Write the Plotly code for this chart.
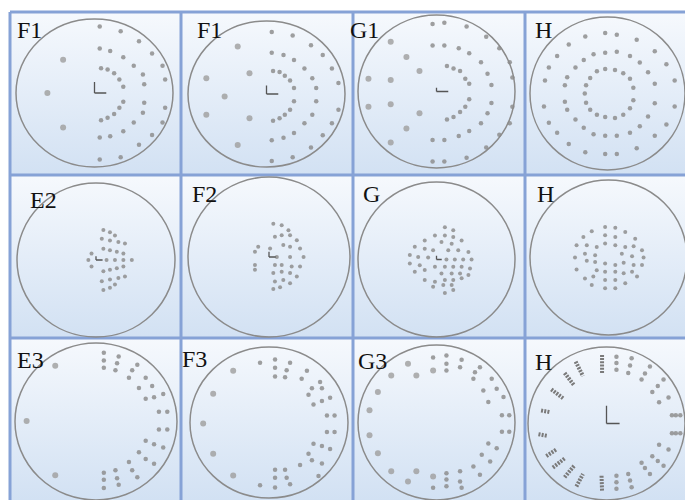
import plotly.graph_objects as go

W, H = 685, 500

LABELS = ["F1", "F1", "G1", "H", "E2", "F2", "G", "H", "E3", "F3", "G3", "H"]

# ---------------- data (degrees, circle radius = 30) ----------------
# Panel 1  F1
P1_X = [2, 10, 17, 22, 26, 27, 27, 26, 22, 17, 10, 2,
        2, 6, 11, 15, 18.5, 19, 19, 18.5, 15, 11, 6, 2,
        2.5, 5, 7.5, 9.5, 11, 11, 9.5, 7.5, 5, 2.5]
P1_Y = [27, 25, 21, 16, 11, 5.5, -6, -12, -17, -21, -26, -27,
        18, 17, 14.5, 11, 7.5, 3.5, -4, -8, -12, -15.5, -17.5, -18,
        10, 9.5, 8, 5.5, 2.5, -3.5, -6, -8.5, -10, -11]
P1_BIG_X = [-12, -18, -12]
P1_BIG_Y = [13.5, 0, -14]

# Panel 2  F1
P2_X = [2, 10, 17, 21.5, 25, 27.5, 27.5, 25, 21.5, 17, 10, 2,
        2, 6.5, 10.5, 14.5, 17.5, 19, 19, 17.5, 14.5, 10.5, 6.5, 2,
        2.5, 5, 7, 9, 10.5, 10.5, 9, 7, 5, 2.5]
P2_Y = [25.5, 24, 20, 16, 10.5, 4.5, -6.5, -12, -17, -22, -26, -27.5,
        17, 16, 14, 10.5, 6.5, 2.5, -3, -8.5, -12, -16, -18, -19,
        9.5, 9, 7.5, 5.5, 2.5, -3, -6.5, -8.5, -10, -11]
P2_BIG_X = [-11, -23, -16, -23, -11, -6.5, -6.5]
P2_BIG_Y = [19.5, 6.5, -1, -8.5, -21, 8.5, -10]

# Panel 3  G1
P3_X = [-1.5, 3, 11.5, 19, 24, 28, 29, 29, 28, 24, 19, 11.5, 3, -1.5,
        -1.5, 3, 8.5, 12.5, 17, 19.5, 21, 21, 19.5, 17, 12.5, 8.5, 3, -1.5,
        4, 6.5, 9, 11, 12.5, 12.5, 11, 9, 6.5, 4]
P3_Y = [26.5, 27, 25.5, 21.5, 17, 11.5, 5.5, -6, -12.5, -17, -22, -26, -27.5, -27.5,
        18, 18, 17, 15, 11.5, 7, 2.5, -4.5, -8.5, -12.5, -15.5, -17.5, -19, -19,
        10, 9, 8, 5, 3, -3, -6, -8, -10, -11]
P3_BIG_X = [-17.5, -11.5, -26, -17.5, -17.5, -26, -11.5, -17.5, -6.5, -6.5]
P3_BIG_Y = [19.5, 13.5, 5, 4.5, -5, -6, -14.5, -20, 8, -8.5]

# Panel 4  H (concentric rings)
P4_X = [-8.6, -0.9, 3.6, 11.3, 18.3, 22.8, 26, 26, 22.8, 18.3, 11.3, 3.6, -0.9, -8.6,
        -15, -19.5, -22.7, -24.6, -24.2, -22.7, -19.5, -15,
        -5.4, -0.9, 3.6, 8.7, 12.5, 15.7, 18.3, 18.3, 15.7, 12.5, 8.7, 3.6, -0.9, -5.4,
        -9.2, -12.4, -15.6, -16.5, -16.5, -15.6, -12.4, -9.2,
        -4.1, -0.9, 2.9, 6.1, 8.7, 10, 10, 8.7, 6.1, 2.9, -0.9, -4.1, -6.7, -8.3, -8.8, -8.3, -6.7]
P4_Y = [22.4, 23.7, 23, 21.1, 16.6, 11.5, 5.1, -5.1, -12.2, -16.6, -21.5, -23.7, -23.7, -23,
        -19.8, -15.4, -11.5, -5.1, 5.1, 10.2, 14.7, 19.2,
        15.4, 16, 16.4, 14.7, 12.2, 8.3, 3.8, -3.8, -9, -12.8, -15.4, -16.6, -16.6, -16,
        -13.4, -10.2, -6.4, -3.2, 3.2, 6.4, 10.2, 13.1,
        8.7, 9.6, 9.2, 7.9, 5.8, 2.3, -2.6, -5.8, -8.3, -9.6, -9.2, -8.3, -6.4, -3.6, 0, 3.2, 6.1]

# Panel 5  E2
P5_X = [2.8, 5.3, 7.2, 2.2, 5.3, 8.5, 11, 2.8, 5.3, 7.9, 10.4, -1.7,
        -2.9, 4, 7.2, 10.4, 13.6, -1.7,
        2.8, 5.3, 7.9, 10.4, 2.2, 5.3, 8.5, 11, 2.8, 5.3, 7.2]
P5_Y = [11.7, 10.8, 9.5, 8.3, 7.6, 7, 6.4, 4.4, 3.8, 3.2, 2.5, 2.5,
        0, 0, 0, 0, 0, -2.5,
        -4.4, -3.8, -3.2, -2.5, -8.3, -7.6, -7, -6.4, -11.7, -10.8, -9.5]

# Panel 6  F2
P6_X = [1.6, 4.7, 7.2, 2.2, 4.7, 7.8, 10.3, -4, 0.4, 5.3, 7.8, 11.5,
        -5.2, 2.9, 7.8, 12.8, -5.2, 2.2, 4.7, 8.4, 11.5,
        -5.2, 1.6, 4.7, 7.8, 10.3, 2.2, 5.3, 7.8, 1.6, 4.1]
P6_Y = [12.5, 11.9, 10, 7.6, 8.2, 8.2, 6.3, 3.8, 3.2, 4.5, 3.8, 3.2,
        2, 0, 0, 0, -3, -3, -3, -3.6, -3.6,
        -4.8, -6, -5.5, -6, -7.3, -9.2, -8.6, -9.8, -12, -11.3]

# Panel 7  G
P7_X = [3.2, 6.4, -0.6, 3.2, 6.4, -4.5, 1.9, 5.8, 9.6, -8.3, -4.5, -1.3, 4.5, 8.3, 12.2,
        -10.2, -7, -3.2, 3.8, 7, 10.2, 13.4,
        -10.2, -6.4, -0.6, 3.2, 6.4, 9.6, 12.8, -8.3, -4.5, 1.9, 5.8, 9, 12.2,
        -4.5, -0.6, 3.2, 6.4, 9.6, -1.3, 2.6, 5.8, 3.2, 6.4]
P7_Y = [12.5, 11.3, 9.3, 9.3, 8.7, 7.4, 6.8, 6.1, 7.4, 4.9, 4.2, 3.6, 3.6, 3.6, 2.9,
        1.7, 1, 0.8, 0, 0, 0, 0,
        -1.5, -2.2, -2.8, -2.8, -2.8, -2.8, -3.5, -4.7, -4.1, -5.4, -5.4, -5.4, -6,
        -7.9, -8.6, -7.9, -7.9, -7.3, -10.5, -9.9, -9.9, -13, -11.8]

# Panel 8  H (central)
P8_X = [-1.3, 2.6, -6.4, 6.4, -9.6, -1.3, 2.6, 10.2,
        -12.2, -8.3, -4.5, -1.3, 2.6, 6.4, 9.6, 12.8,
        -12.8, -9, -5.1, 5.1, 9, 13.4,
        -8.3, -5.1, -1.3, 2.6, 5.8, 9.6, 12.8,
        -12.2, -9, -5.8, -4.5, -1.3, 2.6, 5.8, 9, 10.9,
        -6.4, -1.3, 2.6, 6.4, -1.3, 2.6]
P8_Y = [11.8, 11.5, 10.2, 9.9, 7.9, 8.6, 7.9, 7.3,
        4.7, 4.7, 4.1, 5.4, 4.7, 4.1, 4.4, 2.8,
        0, 1.5, 0.9, 1.5, 0.5, 0,
        -1.3, -1.7, -2.3, -2.9, -2, -2.9, -2.9,
        -4.6, -8.1, -7.4, -4.9, -5.5, -5.5, -6.1, -5.5, -7.4,
        -10.6, -8.7, -8.7, -10, -11.9, -11.9]

# Panel 9  E3
P9_X = [2.9, 8.4, 2.9, 7.8, 15.3, 2.9, 7.2, 13.4, 12.2, 18.4, 15.9, 20.8,
        18.4, 21.5, 24.9, 23.3, 26.4, 23.3, 26.4, 18.4, 21.5, 24.9, 15.9, 18.4,
        21.5, 12.2, 13.4, 15.3, 7.2, 2.9, 7.8, 2.9, 8.4, 2.9]
P9_Y = [26.3, 24.8, 23.3, 22.3, 21.7, 20.5, 19.6, 19.6, 16.7, 16.7, 12.8, 13.6,
        8.7, 9.3, 10.5, 3.7, 3.7, -3.1, -3.1, -7.4, -8.7, -9.9, -11.8, -14.3,
        -16.1, -15.5, -18.6, -21.3, -18.6, -19.6, -21.7, -22.3, -24.2, -25.4]
P9_BIG_X = [-15.1, -25.7, -15.1]
P9_BIG_Y = [21.3, 0.2, -20.5]

# Panel 10  F3
P10_X = [-3.4, 2.3, 8, 2.3, 6.7, 14.4, 2.3, 6.1, 12.4, 19.4, 16.3, 20.1,
         15, 23.2, 16.9, 20.1, 22, 24.9, 22, 24.9, 16.9, 20.1, 23.2, 15,
         16.3, 20.1, 11.8, 18.8, 2.3, 6.1, 2.3, 6.7, 8, 2.3, -3.4]
P10_Y = [23.7, 25, 23.7, 21.8, 20.8, 20.6, 18.3, 18, 17.4, 16.1, 13.6, 13.6,
         11, 9.8, 7.2, 8.5, 2.8, 2.8, -3.8, -3.8, -8.4, -9.3, -10.5, -12.4,
         -15, -16.3, -16.9, -21.3, -18.8, -18.8, -22, -22, -24.5, -25.8, -24.9]
P10_BIG_X = [-13.6, -21.2, -25, -21.2, -13.6]
P10_BIG_Y = [20.6, 11.4, -0.4, -12.4, -21.1]

# Panel 11  G3
P11_X = [-1.3, 3.8, 9.6, 3.8, 9, 16.6, 3.8, 14.7, 14.1, 21.1, 17.9, 23,
         19.8, 25.6, 25, 27.8, 25, 27.8, 19.8, 23, 17.3, 20.5, 14.1, 16.6,
         9, 3.8, 3.8, 9, 3.8, 9.6, -1.3]
P11_Y = [25.2, 25.9, 24.3, 22.7, 21.4, 21.4, 20.1, 19.5, 16.9, 16.9, 12.4, 13.1,
         7.9, 9.9, 2.8, 2.8, -3.6, -3.6, -8.1, -10, -12.5, -15.1, -17, -20.2,
         -18.9, -19.6, -22.1, -22.8, -24.7, -25.3, -25.3]
P11_BIG_X = [-10.9, -17.3, -22.4, -25.6, -25.6, -22.4, -17.3, -10.9, -7.7, -1.3, -7.7, -1.3]
P11_BIG_Y = [22.7, 18.2, 11.8, 4.7, -4.9, -11.9, -18.9, -22.8, 18.2, 20.1, -18.9, -20.9]

# Panel 12  H (peripheral)
P12_X = [3.8, 3.8, 3.8, 9.6, 9, 8.3, 16.6, 14.7, 13.4, 21.8, 19.6, 17.5,
         23.7, 20.1, 25, 26.5, 28.2, 25, 26.5, 28.2, 20.1, 23.7,
         17.5, 19.6, 21.8, 13.4, 14.7, 16.6, 8.3, 9, 9.6, 3.8, 3.8, 3.8]
P12_Y = [26.2, 23.7, 21.1, 25.6, 22.7, 19.8, 22.4, 19.6, 17.3, 17.3, 14.7, 12.4,
         10.2, 8.3, 3.2, 3.2, 3.2, -3.8, -3.8, -3.8, -8.3, -10.2,
         -12.8, -14.7, -16.6, -15.4, -17.5, -19.8, -19.8, -22.4, -25, -20.5, -23, -25.6]
# radial dash segments on the left half (start, end, gap)
P12_DASH_X = [-1.7, -1.7, None, -11.8, -9, None, -16, -12.4, None, -21.1, -16.6, None,
              -25, -21.8, None, -26, -22.4, None, -23, -19.2, None, -20.5, -16, None,
              -16, -12.4, None, -11.5, -9, None, -1.9, -1.7]
P12_DASH_Y = [26.9, 19.8, None, 24.3, 18.6, None, 19.8, 15, None, 13.4, 9.9, None,
              5.1, 4.5, None, -4.2, -4.9, None, -12.8, -10.2, None, -17.3, -13.7, None,
              -21.1, -16.6, None, -24.7, -19.8, None, -20.5, -26.5]

# fixation crosses (vertical arm, horizontal arm) per panel
CROSS_V = [4.5, 3.5, 1.5, 0, 1.5, 2, 1.5, 0, 0, 0, 0, 7]
CROSS_H = [4.5, 4.5, 4.5, 0, 2.5, 2.5, 2, 0, 0, 0, 0, 5]

PANEL_POINTS = [
    (P1_X, P1_Y, P1_BIG_X, P1_BIG_Y),
    (P2_X, P2_Y, P2_BIG_X, P2_BIG_Y),
    (P3_X, P3_Y, P3_BIG_X, P3_BIG_Y),
    (P4_X, P4_Y, [], []),
    (P5_X, P5_Y, [], []),
    (P6_X, P6_Y, [], []),
    (P7_X, P7_Y, [], []),
    (P8_X, P8_Y, [], []),
    (P9_X, P9_Y, P9_BIG_X, P9_BIG_Y),
    (P10_X, P10_Y, P10_BIG_X, P10_BIG_Y),
    (P11_X, P11_Y, P11_BIG_X, P11_BIG_Y),
    (P12_X, P12_Y, [], []),
]

# ---------------- layout geometry (pixels) ----------------
CIRCLES = [(94.5, 93, 78.5, 74), (266.5, 94, 78.5, 73), (436.5, 91.5, 78.5, 76.5), (607.5, 93.5, 77.5, 76.5),
           (96, 260, 79, 77), (269, 257, 81, 80), (436.5, 259.5, 78.5, 77.5), (608.5, 257.5, 78.5, 77.5),
           (96, 421.5, 81, 78.5), (269, 422.5, 79, 75.5), (436.5, 422.5, 78.5, 77.5), (606.5, 423.5, 78.5, 76.5)]
LABEL_POS = [(15, 30.5), (195, 30), (348, 30.5), (533, 30),
             (28, 200), (190, 194), (361, 193.5), (535, 194),
             (15, 360), (180, 359), (356, 361), (533, 362)]
COLS = [10, 181, 353, 525, 685]
ROWS = [12, 175, 338, 500]

R = 30
PAD = 31

fig = go.Figure()
layout = dict(width=W, height=H, margin=dict(l=0, r=0, t=0, b=0),
              paper_bgcolor="white", plot_bgcolor="rgba(0,0,0,0)", showlegend=False)

# background axis
layout["xaxis"] = dict(domain=[0, 1], range=[0, W], visible=False, fixedrange=True)
layout["yaxis"] = dict(domain=[0, 1], range=[0, H], visible=False, fixedrange=True)
for ri in range(3):
    for ci in range(4):
        x0, x1 = COLS[ci], COLS[ci + 1]
        y0, y1 = H - ROWS[ri + 1], H - ROWS[ri]
        fig.add_trace(go.Scatter(
            x=[x0, x1, x1, x0, x0], y=[y0, y0, y1, y1, y0], mode="lines",
            fill="toself", line=dict(width=0, color="rgba(0,0,0,0)"),
            fillgradient=dict(type="vertical", colorscale=[[0, "#d2e1f3"], [1, "#f6f9fd"]]),
            hoverinfo="skip", xaxis="x", yaxis="y"))

shapes = []
BORDER = "#86a2d6"
for xp in COLS[:-1]:
    shapes.append(dict(type="line", xref="paper", yref="paper", x0=xp / W, x1=xp / W,
                       y0=0, y1=1 - ROWS[0] / H, line=dict(color=BORDER, width=3)))
for yp in ROWS[:-1]:
    shapes.append(dict(type="line", xref="paper", yref="paper", x0=COLS[0] / W, x1=1,
                       y0=1 - yp / H, y1=1 - yp / H, line=dict(color=BORDER, width=3)))

annotations = []
for i in range(12):
    k = i + 2
    cx, cy, rx, ry = CIRCLES[i]
    sx, sy = rx / R, ry / R
    a = max(0, cx - PAD * sx); b = min(W, cx + PAD * sx)
    t = max(0, cy - PAD * sy); bt = min(H, cy + PAD * sy)
    layout[f"xaxis{k}"] = dict(domain=[a / W, b / W], range=[(a - cx) / sx, (b - cx) / sx],
                               visible=False, fixedrange=True, anchor=f"y{k}")
    layout[f"yaxis{k}"] = dict(domain=[1 - bt / H, 1 - t / H], range=[-(bt - cy) / sy, -(t - cy) / sy],
                               visible=False, fixedrange=True, anchor=f"x{k}")
    shapes.append(dict(type="circle", xref=f"x{k}", yref=f"y{k}", x0=-R, x1=R, y0=-R, y1=R,
                       line=dict(color="#8b8b8b", width=1.5)))
    px, py, bx, by = PANEL_POINTS[i]
    size = 4 if i in (4, 5, 6, 7) else 4.5
    fig.add_trace(go.Scatter(x=px, y=py, mode="markers", xaxis=f"x{k}", yaxis=f"y{k}",
                             marker=dict(size=size, color="#8e8e8e", opacity=0.85, line=dict(width=0)),
                             hoverinfo="skip"))
    if bx:
        fig.add_trace(go.Scatter(x=bx, y=by, mode="markers", xaxis=f"x{k}", yaxis=f"y{k}",
                                 marker=dict(size=6, color="#a2a2a2", opacity=0.85, line=dict(width=0)),
                                 hoverinfo="skip"))
    if CROSS_V[i] > 0:
        v, h = CROSS_V[i], CROSS_H[i]
        fig.add_trace(go.Scatter(x=[0, 0, None, 0, h], y=[v, 0, None, 0, 0], mode="lines",
                                 xaxis=f"x{k}", yaxis=f"y{k}",
                                 line=dict(color="#555555", width=1.3), hoverinfo="skip"))
    if i == 11:
        fig.add_trace(go.Scatter(x=P12_DASH_X, y=P12_DASH_Y, mode="lines", xaxis=f"x{k}", yaxis=f"y{k}",
                                 line=dict(color="#7a7a7a", width=4, dash="2px,1.2px"), hoverinfo="skip"))
    lx, ly = LABEL_POS[i]
    annotations.append(dict(text=LABELS[i], x=lx / W, y=1 - ly / H, xref="paper", yref="paper",
                            xanchor="left", yanchor="middle", showarrow=False,
                            font=dict(family="Liberation Serif", size=24, color="#111111")))

layout["shapes"] = shapes
layout["annotations"] = annotations
fig.update_layout(**layout)
fig.write_html("out.html", config={"displayModeBar": False},
               post_script="document.body.style.margin='0';document.body.style.overflow='hidden';")
